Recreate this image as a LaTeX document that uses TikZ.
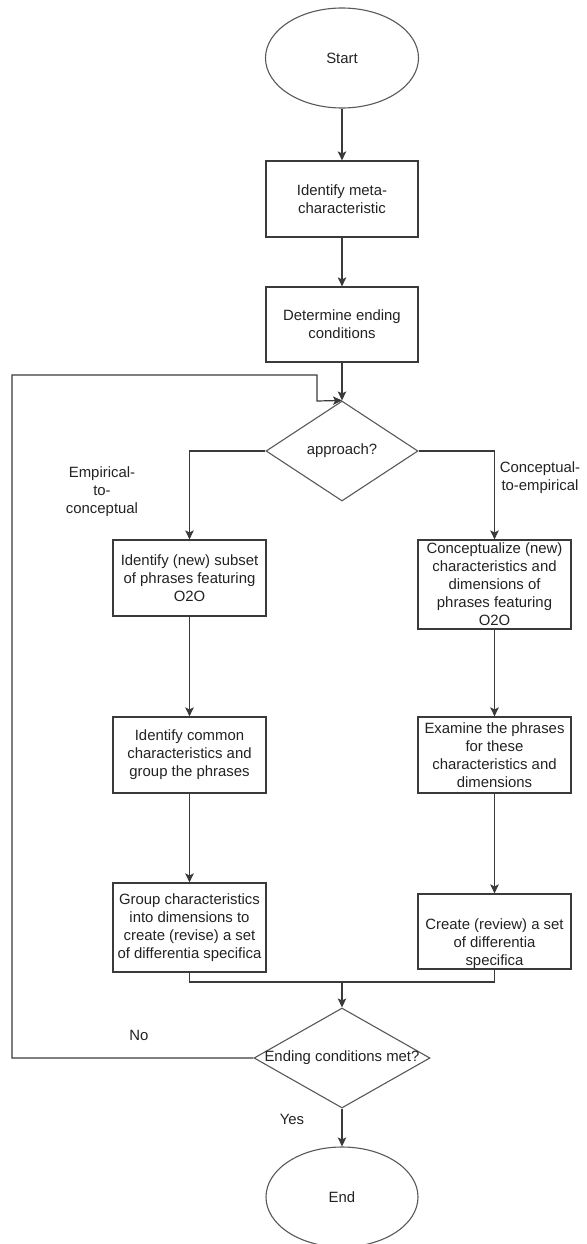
\documentclass[tikz,border=0pt]{standalone}
\usepackage{fontspec}
\setmainfont{Liberation Sans}
\usetikzlibrary{shapes.geometric,arrows.meta}
\definecolor{linegray}{HTML}{3A3A3A}
\definecolor{inkgray}{HTML}{222222}
\begin{document}
\begin{tikzpicture}[x=1pt,y=-1pt,
  every node/.style={font=\fontsize{14.9}{18}\selectfont, text=inkgray},
  box/.style={draw=linegray, line width=1.2pt, rectangle, minimum width=153, inner sep=1pt, align=center},
  oval/.style={draw=linegray!85, line width=1.1pt, ellipse, minimum width=153, minimum height=100, inner sep=0pt},
  decision/.style={draw=linegray!85, line width=1.1pt, diamond, inner sep=0pt},
  flow/.style={draw=linegray, line width=1.2pt},
  arrow/.style={flow, -{Stealth[length=9pt,width=8.5pt,inset=2pt]}},
  tag/.style={align=center, inner sep=0pt}]
\useasboundingbox (0,0) rectangle (586,1244);

% terminals
\node[oval] (start) at (342,58) {Start};
\node[oval, minimum width=152] (finish) at (342,1197) {End};

% preparation steps
\node[box, minimum width=152, minimum height=76] (meta) at (342,199) {Identify meta-\\characteristic};
\node[box, minimum width=152, minimum height=75] (endcond) at (342,324.5) {Determine ending\\conditions};

% first decision
\node[decision, minimum width=152, minimum height=100] (appr) at (342,451) {};
\node at (appr) {approach?};

% empirical-to-conceptual branch
\node[box, minimum height=76] (l1) at (189.5,578) {Identify (new) subset\\of phrases featuring\\O2O};
\node[box, minimum height=76] (l2) at (189.5,755) {Identify common\\characteristics and\\group the phrases};
\node[box, minimum height=89] (l3) at (189.5,927.5) {Group characteristics\\into dimensions to\\create (revise) a set\\of differentia specifica};

% conceptual-to-empirical branch
\node[box, minimum height=89] (r1) at (494.5,584.5) {Conceptualize (new)\\characteristics and\\dimensions of\\phrases featuring\\O2O};
\node[box, minimum height=76] (r2) at (494.5,755) {Examine the phrases\\for these\\characteristics and\\dimensions};
\node[box, minimum height=75,
  label={[tag, yshift=-12pt]center:Create (review) a set\\of differentia\\specifica}] (r3) at (494.5,931.5) {};

% second decision
\node[decision, minimum width=176, minimum height=100] (cond) at (342,1058) {};
\node at (cond) {Ending conditions met?};

% branch labels
\node[tag] (lblemp) at (102,492) {Empirical-\\to-\\conceptual};
\node[tag] (lblcon) at (540,478) {Conceptual-\\to-empirical};
\node[tag] (lblno) at (139,1035) {No};
\node[tag] (lblyes) at (292,1119) {Yes};

% helper points for routed connectors
\coordinate (loopA) at (12,375);
\coordinate (loopB) at (317,401);
\coordinate (join) at (342,982);

% connectors
\draw[arrow] (start.south) -- (meta.north);
\draw[arrow] (meta.south) -- (endcond.north);
\draw[arrow] (endcond.south) -- (appr.north);
\draw[arrow] (appr.west) -| (l1.north);
\draw[arrow] (appr.east) -| (r1.north);
\draw[arrow] (l1.south) -- (l2.north);
\draw[arrow] (l2.south) -- (l3.north);
\draw[arrow] (r1.south) -- (r2.north);
\draw[arrow] (r2.south) -- (r3.north);
\draw[flow] (l3.south) |- (join) -| (r3.south);
\draw[arrow] (join) -- (cond.north);
\draw[arrow] (cond.west) -| (loopA) -| (loopB) -- (appr.north);
\draw[arrow] (cond.south) -- (finish.north);
\end{tikzpicture}
\end{document}
